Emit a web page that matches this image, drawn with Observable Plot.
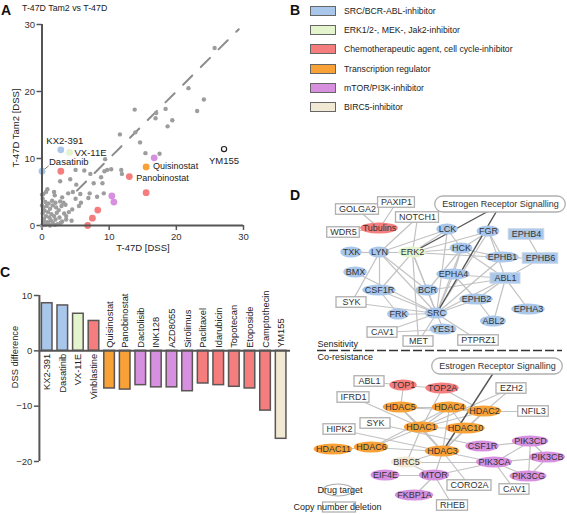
<!DOCTYPE html>
<html><head><meta charset="utf-8">
<script src="https://cdn.jsdelivr.net/npm/d3@7"></script>
<script src="https://cdn.jsdelivr.net/npm/@observablehq/plot@0.6"></script>
<style>
body{margin:0;background:#fff;}
#root{position:relative;width:567px;height:514px;overflow:hidden;font-family:'Liberation Sans',Arial,sans-serif;color:#222;background:#fff;}
.abs{position:absolute;white-space:nowrap;line-height:1;}
.letter{font-weight:bold;font-size:14px;color:#111;}
.rot{transform:translate(-50%,-50%) rotate(-90deg);}
.ctr{transform:translate(-50%,-50%);}
</style></head><body><div id="root"></div>
<script>
// ---------- DATA ----------
// Panel A: scatter (x = T-47D DSS, y = T-47D Tam2 DSS)
const grayX = [25.7,21.8,24.1,23.1,13.8,17.0,18.4,16.9,19.4,18.7,13.9,14.6,15.4,17.5,11.6,
  9.4,9.3,9.7,10.3,11.8,11.9,8.8,7.2,6.3,5.0,4.2,2.7,5.1,7.7,9.0,7.1,8.2,6.9,9.2,5.7,5.0,5.8,5.5,4.5,4.4,3.6,3.2,3.0,1.8,0.8,0.0,0.6,0.2,1.9,3.9,4.6,
  0,0.2,0.5,0.8,1.0,1.3,0.3,0.6,1.1,1.6,2.0,2.3,0.1,0.4,0.9,1.4,1.8,2.2,2.6,3.0,0.2,0.7,1.2,1.6,2.1,2.5,2.9,3.3,0.5,1.0,1.5,2.0,2.7,3.5,0.1,0.3,1.9,2.8,3.6,4.0,1.2,0.0];
const grayY = [26.5,20.5,18.8,17.1,17.3,16.8,17.4,16.0,15.7,14.8,13.9,12.4,10.8,10.7,13.6,
  9.9,8.1,8.3,8.4,8.3,7.7,7.2,7.7,8.2,8.3,6.9,6.6,6.1,6.3,6.3,4.8,4.3,4.1,4.8,4.7,4.0,3.4,2.9,2.4,0.7,1.4,3.4,4.2,5.0,5.4,4.6,5.0,4.7,4.5,4.8,5.0,
  0,0.3,0.1,0.5,0.2,0.8,1.0,1.4,1.2,0.4,0.9,0.2,1.8,2.2,2.0,1.7,1.4,1.9,1.2,0.6,2.7,2.9,2.5,3.0,2.7,2.3,2.9,1.8,3.5,3.3,3.7,3.4,3.6,3.1,4.0,0.6,0.1,0.4,0.9,2.0,0.0,3.0];
const hitName  = ["KX2-391","VX-11E","Dasatinib","","Quisinostat","Panobinostat","","","","","","",""];
const hitX     = [2.8,4.1,0.0,2.8,15.5,13.0,16.7,10.4,10.7,15.5,8.3,7.5,6.8];
const hitY     = [11.3,10.9,8.1,8.1,8.75,7.3,10.1,4.4,3.5,4.9,2.3,1.1,0.0];
const hitClass = ["src","erk","src","chemo","tr","chemo","mtor","mtor","mtor","chemo","chemo","chemo","chemo"];
const ym155Name = ["YM155"], ym155X = [27.1], ym155Y = [11.4];
const diagonal = [5.2, 29.3];
const axisTicksA = [0, 10, 20, 30];

// Panel B legend
const legendKeys   = ["src","erk","chemo","tr","mtor","birc5"];
const legendLabels = ["SRC/BCR-ABL-inhibitor","ERK1/2-, MEK-, Jak2-inhibitor","Chemotherapeutic agent, cell cycle-inhibitor","Transcription regulator","mTOR/PI3K-inhibitor","BIRC5-inhibitor"];

// Panel C bars
const drugs    = ["KX2-391","Dasatinib","VX-11E","Vinblastine","Quisinostat","Panobinostat","Dactolisib","INK128","AZD8055","Sirolimus","Paclitaxel","Idarubicin","Topotecan","Etoposide","Camptothecin","YM155"];
const dssDiff  = [8.6,8.2,6.7,5.4,-6.8,-7.0,-6.2,-6.6,-6.6,-7.3,-5.9,-6.2,-6.5,-6.8,-10.8,-15.9];
const drugClass= ["src","src","erk","chemo","tr","tr","mtor","mtor","mtor","mtor","chemo","chemo","chemo","chemo","chemo","birc5"];
const ticksC   = [10, 0, -10, -20];

// Panel D network layout (layout coordinates)
const upLabel = ["Estrogen Receptor Signalling","GOLGA2","PAXIP1","NOTCH1","WDR5","Tubulins","LCK","FGR","EPHB4","TXK","LYN","ERK2","HCK","EPHB1","EPHB6","BMX","EPHA4","ABL1","CSF1R","BCR","EPHB2","EPHA3","SYK","FRK","SRC","ABL2","YES1","CAV1","MET","PTPRZ1"];
const upX = [500,357,396,417,343,379,447,488,526,351,379,412,461,502,540,355,453,505,379,427,476,528,351,398,436,493,443,382,418,478];
const upY = [204,209,202,217,232,228,229,231,234,252,252,252,248,257,258,272,274,278,290,290,299,309,302,314,313,321,329,332,341,340];
const upKind = ["pathway","gene","gene","gene","gene","chemo","src","src","srcbox","src","src","erk","src","src","srcbox","src","src","srcbox","src","src","src","src","gene","src","src","src","src","gene","gene","gene"];
const upEdges = [["Estrogen Receptor Signalling","ERK2"],["Estrogen Receptor Signalling","SRC"],
  ["PAXIP1","Tubulins"],["GOLGA2","Tubulins"],["WDR5","Tubulins"],["NOTCH1","ERK2"],["NOTCH1","LYN"],
  ["TXK","LYN"],["LYN","ERK2"],["LYN","CSF1R"],["LYN","SRC"],["LYN","LCK"],["LYN","BCR"],["SYK","LYN"],["SYK","SRC"],["BMX","SRC"],
  ["ERK2","LCK"],["ERK2","HCK"],["ERK2","FGR"],["ERK2","EPHB1"],["ERK2","SRC"],["ERK2","BCR"],["ERK2","CSF1R"],["ERK2","MET"],
  ["LCK","SRC"],["LCK","HCK"],["FGR","HCK"],["FGR","SRC"],["FGR","ABL1"],["FGR","EPHB1"],
  ["HCK","SRC"],["HCK","EPHA4"],["HCK","ABL1"],["HCK","BCR"],["HCK","EPHB1"],
  ["EPHB4","EPHB6"],["EPHB1","EPHB6"],["EPHB1","SRC"],["EPHB6","ABL1"],
  ["EPHA4","SRC"],["EPHA4","EPHB2"],["EPHA4","ABL1"],
  ["ABL1","EPHB2"],["ABL1","ABL2"],["ABL1","EPHA3"],["ABL1","SRC"],["ABL1","BCR"],
  ["BCR","SRC"],["CSF1R","SRC"],["CSF1R","FRK"],["EPHB2","SRC"],["EPHB2","ABL2"],["FRK","SRC"],
  ["SRC","YES1"],["SRC","CAV1"],["SRC","MET"],["SRC","PTPRZ1"],["YES1","CAV1"]];

const loLabel = ["Estrogen Receptor Signalling","ABL1","TOP1","TOP2A","EZH2","IFRD1","HDAC5","HDAC4","HDAC2","NFIL3","SYK","HIPK2","HDAC1","HDAC10","HDAC11","HDAC6","HDAC3","CSF1R","PIK3CD","BIRC5","PIK3CA","PIK3CB","EIF4E","MTOR","PIK3CG","CORO2A","CAV1","FKBP1A","RHEB"];
const loX = [497,369,403,442,511,353,400,449,484,533,375,339,421,465,333,371,442,482,530,406,494,547,385,434,528,469,514,414,452];
const loY = [366,381,385,388,388,397,407,407,411,411,423,429,427,428,449,447,451,446,441,462,462,457,475,475,476,485,489,495,505];
const loKind = ["pathway","gene","chemo","chemo","gene","gene","tr","tr","tr","gene","gene","gene","tr","tr","tr","tr","tr","mtor","mtor","birc5","mtor","mtor","mtor","mtor","mtor","gene","gene","mtor","gene"];
const loEdges = [["Estrogen Receptor Signalling","HDAC3"],
  ["ABL1","TOP1"],["TOP1","TOP2A"],["TOP1","HDAC5"],["TOP2A","HDAC1"],["TOP2A","HDAC2"],
  ["EZH2","HDAC2"],["EZH2","HDAC1"],["IFRD1","HDAC1"],
  ["HDAC5","HDAC4"],["HDAC5","HDAC2"],["HDAC5","HDAC1"],["HDAC5","HDAC3"],
  ["HDAC4","HDAC2"],["HDAC4","HDAC1"],["HDAC4","HDAC3"],["HDAC4","HDAC10"],["HDAC4","HDAC6"],
  ["HDAC2","NFIL3"],["HDAC2","HDAC1"],["HDAC2","HDAC10"],["HDAC2","HDAC3"],
  ["SYK","CSF1R"],["HIPK2","HDAC3"],["HDAC11","HDAC6"],["HDAC6","HDAC1"],["HDAC6","HDAC3"],
  ["HDAC1","HDAC3"],["HDAC1","HDAC10"],["HDAC1","BIRC5"],["HDAC10","HDAC3"],
  ["HDAC3","CORO2A"],["HDAC3","MTOR"],["HDAC3","PIK3CA"],["HDAC3","BIRC5"],
  ["BIRC5","PIK3CA"],["BIRC5","MTOR"],["EIF4E","MTOR"],["MTOR","FKBP1A"],["MTOR","RHEB"],["MTOR","PIK3CA"],
  ["CSF1R","PIK3CD"],["PIK3CA","PIK3CD"],["PIK3CA","PIK3CB"],["PIK3CA","PIK3CG"],["PIK3CA","CAV1"],
  ["PIK3CD","PIK3CB"],["PIK3CD","PIK3CG"],["PIK3CB","PIK3CG"]];
const sectionText = ["Sensitivity","Co-resistance"];
const keyText = ["Drug target","Copy number deletion"];

// ---------- STYLE ----------
const FONT = "'Liberation Sans', Arial, sans-serif";
const color = {src:"#a9c7eb", erk:"#e4f4cd", chemo:"#f57d7d", tr:"#f7a137", mtor:"#d790e0", birc5:"#f1e9d3"};
const AXIS = "#555";
const root = document.getElementById("root");
function place(el, left, top) { const d = document.createElement("div"); d.className="abs"; d.style.left=left+"px"; d.style.top=top+"px"; d.appendChild(el); root.appendChild(d); return d; }
function label(txt, left, top, cls, size, extra) { const d = document.createElement("div"); d.className = "abs " + (cls||""); d.style.left=left+"px"; d.style.top=top+"px"; if (size) d.style.fontSize = size+"px"; d.textContent = txt; if (extra) Object.assign(d.style, extra); root.appendChild(d); return d; }
const baseStyle = {fontFamily: FONT, fontSize: "9.5px", color: "#333", background: "transparent", overflow: "visible"};

// ---------- PANEL A ----------
const grayPts = grayX.map((x, i) => ({x, y: grayY[i]}));
const hits = hitX.map((x, i) => ({name: hitName[i], x, y: hitY[i], cls: hitClass[i]}));
const ym = ym155X.map((x, i) => ({name: ym155Name[i], x, y: ym155Y[i]}));
const labelStyle = {
  "KX2-391": {dx: 4, dy: -9, textAnchor: "middle", fontSize: 9.5},
  "VX-11E": {dx: 5, dy: 0.5, textAnchor: "start", fontSize: 9.5},
  "Dasatinib": {dx: 7, dy: -9, textAnchor: "start", fontSize: 9.5},
  "Quisinostat": {dx: 7, dy: -0.5, textAnchor: "start", fontSize: 9},
  "Panobinostat": {dx: 7, dy: 1.5, textAnchor: "start", fontSize: 9},
};
const dasatinib = hits.filter(d => d.name === "Dasatinib");
const chartA = Plot.plot({
  width: 290, height: 260, marginLeft: 41.5, marginRight: 47, marginTop: 24, marginBottom: 35,
  style: baseStyle,
  x: {domain: [0, 30]}, y: {domain: [0, 30]},
  marks: [
    Plot.axisX({ticks: axisTicksA, tickSize: 5, tickPadding: 3, label: null, stroke: AXIS, strokeWidth: 1.5, fontSize: 9.5}),
    Plot.axisY({ticks: axisTicksA, tickSize: 5, tickPadding: 2, label: null, stroke: AXIS, strokeWidth: 1.5, fontSize: 9.5}),
    Plot.line(diagonal, {x: d => d, y: d => d, stroke: "#8c8c8c", strokeWidth: 2, strokeDasharray: "13,12"}),
    Plot.dot(grayPts, {x: "x", y: "y", r: 2.2, fill: "#9d9d9d"}),
    Plot.link(dasatinib, {x1: "x", y1: "y", x2: d => d.x + 1, y2: d => d.y + 0.8, stroke: "#777", strokeWidth: 1}),
    Plot.dot(hits, {x: "x", y: "y", r: 3.4, fill: d => color[d.cls]}),
    Plot.dot(ym, {x: "x", y: "y", r: 2.6, fill: "white", stroke: "#222", strokeWidth: 1.2}),
    Plot.ruleX([0], {y1: 0, y2: 30, stroke: AXIS, strokeWidth: 2}),
    Plot.ruleY([0], {x1: 0, x2: 30, stroke: AXIS, strokeWidth: 2}),
    ...Object.entries(labelStyle).map(([n, s]) =>
      Plot.text(hits.filter(d => d.name === n), {x: "x", y: "y", text: "name", fill: "#222", ...s})),
    Plot.text(ym, {x: "x", y: "y", text: "name", dy: 12, fill: "#222", fontSize: 9.5})
  ]
});
place(chartA, 0, 0);
label("A", 1, 3, "letter");
label("T-47D Tam2 vs T-47D", 22, 4, "", 8.8);
label("T-47D Tam2 [DSS]", 16, 128, "rot", 9.5);
label("T-47D [DSS]", 143, 248, "ctr", 9.5);

// ---------- PANEL B ----------
label("B", 290, 3, "letter");
legendKeys.forEach((k, i) => {
  const top = 6 + i * 19.2;
  const sw = document.createElement("div");
  sw.className = "abs";
  Object.assign(sw.style, {left: "310px", top: top + "px", width: "24px", height: "8px", background: color[k], border: "1.2px solid #666"});
  root.appendChild(sw);
  label(legendLabels[i], 344, top + 1, "", 8.7);
});

// ---------- PANEL C ----------
const bars = drugs.map((name, i) => ({i, name, v: dssDiff[i], cls: drugClass[i]}));
const chartC = Plot.plot({
  width: 292, height: 225, marginLeft: 38.9, marginRight: 2, marginTop: 15, marginBottom: 44,
  style: baseStyle,
  x: {domain: [-0.5, 15.6], axis: null},
  y: {domain: [-20, 10]},
  marks: [
    Plot.axisY({ticks: ticksC, tickSize: 5, tickPadding: 2, label: null, stroke: AXIS, strokeWidth: 1.5, fontSize: 9.5}),
    Plot.rect(bars, {x1: d => d.i - 0.34, x2: d => d.i + 0.34, y1: 0, y2: "v", fill: d => color[d.cls], stroke: "#5b5555", strokeWidth: 1.5}),
    Plot.ruleY([0], {x1: -0.5, x2: 15.6, stroke: AXIS, strokeWidth: 2}),
    Plot.ruleX([-0.5], {y1: -20, y2: 10, stroke: AXIS, strokeWidth: 2}),
    Plot.text(bars.filter(d => d.v > 0), {x: "i", y: 0, text: "name", rotate: -90, textAnchor: "end", dy: 3, fill: "#222", fontSize: 9.3}),
    Plot.text(bars.filter(d => d.v < 0), {x: "i", y: 0, text: "name", rotate: -90, textAnchor: "start", dy: -3, fill: "#222", fontSize: 9.3})
  ]
});
place(chartC, 0, 280);
label("C", 0, 265, "letter");
label("DSS difference", 16, 357, "rot", 9.3);

// ---------- PANEL D ----------
const ctx = document.createElement("canvas").getContext("2d");
ctx.font = "9px 'Liberation Sans'";
const tw = s => ctx.measureText(s).width;
function buildNodes(labels, xs, ys, kinds, net) {
  return labels.map((lab, i) => {
    const kind = kinds[i], t = tw(lab);
    let w, h;
    if (kind === "pathway") { w = t + 14; h = 16; }
    else if (kind === "gene" || kind === "srcbox") { w = Math.max(30, t + 6); h = 10.5; }
    else { w = Math.max(21, t + 4); h = 11; }
    return {net, label: lab, x: xs[i], y: ys[i], kind, w, h};
  });
}
const nodes = [...buildNodes(upLabel, upX, upY, upKind, "up"), ...buildNodes(loLabel, loX, loY, loKind, "lo")];
const byId = new Map(nodes.map(n => [n.net + ":" + n.label, n]));
const edges = [
  ...upEdges.map(([a, b]) => ({s: byId.get("up:" + a), t: byId.get("up:" + b)})),
  ...loEdges.map(([a, b]) => ({s: byId.get("lo:" + a), t: byId.get("lo:" + b)}))
].filter(e => e.s && e.t).map(e => ({...e, dark: e.s.kind === "pathway" || e.t.kind === "pathway"}));
const box = {x1: d => d.x - d.w / 2, x2: d => d.x + d.w / 2, y1: d => d.y - d.h / 2, y2: d => d.y + d.h / 2};
const ellipses = nodes.filter(n => color[n.kind]);
const genes = nodes.filter(n => n.kind === "gene");
const srcBoxes = nodes.filter(n => n.kind === "srcbox");
const pathways = nodes.filter(n => n.kind === "pathway");
const divider = [{y: 350, x1: 317, x2: 562}];
const sections = [{t: sectionText[0], x: 317, y: 344}, {t: sectionText[1], x: 317, y: 356.5}];
const keys = [{t: keyText[0], x: 317, y: 490, kx: 338, kw: 30, kh: 12, shape: "ellipse"}, {t: keyText[1], x: 293, y: 507, kx: 339, kw: 33, kh: 10, shape: "box"}];
const linkCh = {x1: d => d.s.x, y1: d => d.s.y, x2: d => d.t.x, y2: d => d.t.y};
const chartD = Plot.plot({
  width: 277, height: 329, margin: 0, axis: null,
  style: baseStyle,
  x: {domain: [290, 567], range: [0, 277]},
  y: {domain: [185, 514], range: [0, 329]},
  marks: [
    Plot.link(edges.filter(e => !e.dark), {...linkCh, stroke: "#c2c2c2", strokeWidth: 1.2}),
    Plot.link(edges.filter(e => e.dark), {...linkCh, stroke: "#555", strokeWidth: 1.4}),
    Plot.rect(keys.filter(k => k.shape === "ellipse"), {x1: d => d.kx - d.kw / 2, x2: d => d.kx + d.kw / 2, y1: d => d.y - d.kh / 2, y2: d => d.y + d.kh / 2, rx: 60, fill: "none", stroke: "#aaa", strokeWidth: 1.2}),
    Plot.rect(keys.filter(k => k.shape === "box"), {x1: d => d.kx - d.kw / 2, x2: d => d.kx + d.kw / 2, y1: d => d.y - d.kh / 2, y2: d => d.y + d.kh / 2, fill: "none", stroke: "#aaa", strokeWidth: 1.2}),
    Plot.rect(pathways, {...box, rx: 8, fill: "white", stroke: "#b0b0b0", strokeWidth: 1.3}),
    Plot.rect(genes, {...box, fill: "white", stroke: "#b0b0b0", strokeWidth: 1.3}),
    Plot.rect(srcBoxes, {...box, fill: color.src, stroke: "#c9d5e5", strokeWidth: 1}),
    Plot.rect(ellipses, {...box, rx: 60, fill: d => color[d.kind]}),
    Plot.text(nodes, {x: "x", y: "y", text: "label", fill: "#333", fontSize: 9}),
    Plot.ruleY(divider, {y: "y", x1: "x1", x2: "x2", stroke: "#333", strokeWidth: 1.6, strokeDasharray: "9,3"}),
    Plot.text(sections, {x: "x", y: "y", text: "t", textAnchor: "start", fill: "#222", fontSize: 9}),
    Plot.text(keys, {x: "x", y: "y", text: "t", textAnchor: "start", fill: "#222", fontSize: 9})
  ]
});
place(chartD, 290, 185);
label("D", 290, 188, "letter");
</script></body></html>
